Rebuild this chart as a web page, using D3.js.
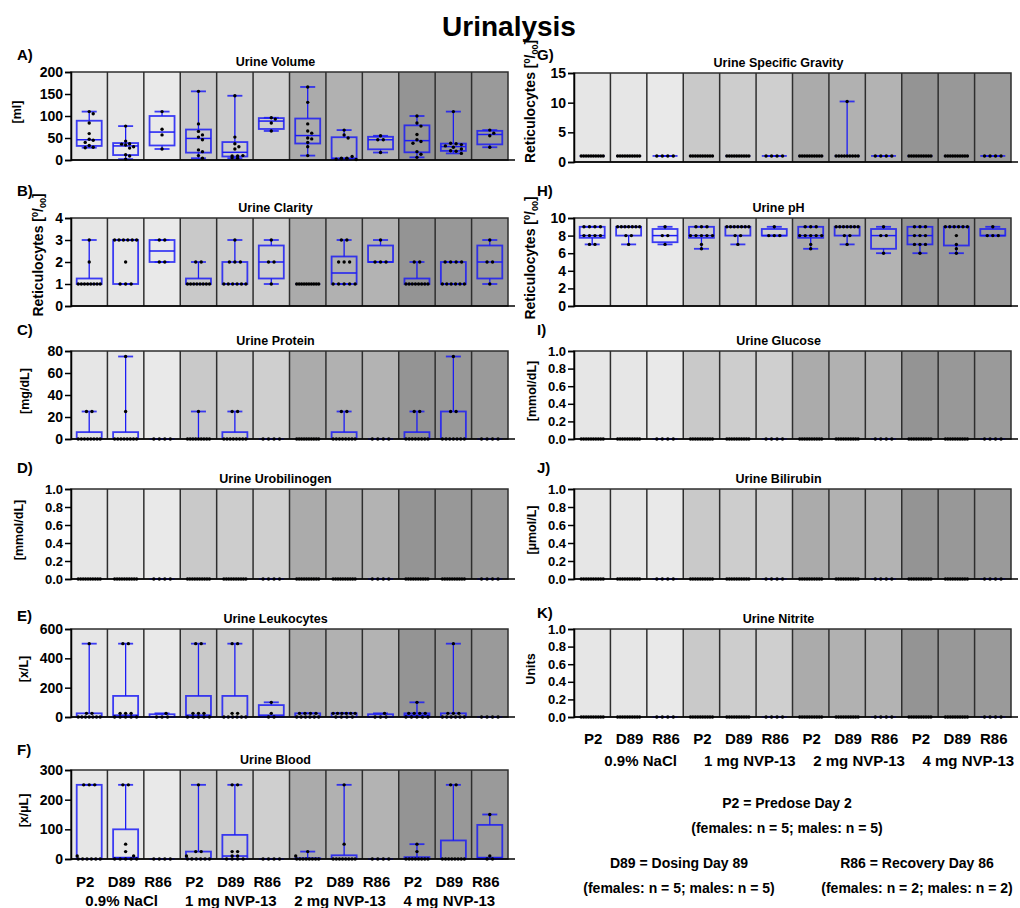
<!DOCTYPE html>
<html lang="en">
<head>
<meta charset="utf-8">
<title>Urinalysis</title>
<script src="https://cdn.jsdelivr.net/npm/d3@7"></script>
<style>
  body { margin: 0; background: #fff; }
  svg text { font-family: 'Liberation Sans', Arial, sans-serif; font-weight: bold; fill: #000; }
</style>
</head>
<body>
<div id="chart"></div>
<script>

/* Categories */
var timepoints = ['P2', 'D89', 'R86'];
var treatments = ['0.9% NaCl', '1 mg NVP-13', '2 mg NVP-13', '4 mg NVP-13'];

/* Values per column: NaCl P2, D89, R86, 1 mg P2, D89, R86, 2 mg ..., 4 mg ... */
var urineVolume = [
  [110, 105, 84, 60, 47, 45, 40, 33, 29, 28],
  [77, 43, 37, 36, 34, 30, 27, 12, 9, 2],
  [110, 70, 57, 25],
  [156, 82, 65, 57, 52, 46, 23, 19, 10, 4],
  [146, 52, 37, 30, 25, 10, 9, 9, 5, 4],
  [96, 93, 84, 66],
  [166, 131, 82, 66, 61, 50, 48, 40, 30, 10],
  [68, 57, 50, 8, 4, 4, 3, 3, 2, 1],
  [55, 46, 46, 17],
  [100, 84, 77, 58, 46, 42, 38, 19, 13, 6],
  [110, 38, 37, 35, 32, 29, 25, 21, 20, 15],
  [68, 61, 55, 29]
];

var urineClarity = [
  [3, 2, 1, 1, 1, 1, 1, 1, 1, 1],
  [3, 3, 3, 3, 3, 3, 2, 1, 1, 1],
  [3, 3, 2, 2],
  [2, 2, 1, 1, 1, 1, 1, 1, 1, 1],
  [3, 2, 2, 2, 1, 1, 1, 1, 1, 1],
  [3, 2, 2, 1],
  [1, 1, 1, 1, 1, 1, 1, 1, 1, 1],
  [3, 3, 2, 2, 2, 1, 1, 1, 1, 1],
  [3, 2, 2, 2],
  [2, 2, 1, 1, 1, 1, 1, 1, 1, 1],
  [2, 2, 2, 2, 1, 1, 1, 1, 1, 1],
  [3, 2, 2, 1]
];

var urineProtein = [
  [25, 25, 0, 0, 0, 0, 0, 0, 0, 0],
  [75, 25, 0, 0, 0, 0, 0, 0, 0, 0],
  [0, 0, 0, 0],
  [25, 0, 0, 0, 0, 0, 0, 0, 0, 0],
  [25, 25, 0, 0, 0, 0, 0, 0, 0, 0],
  [0, 0, 0, 0],
  [0, 0, 0, 0, 0, 0, 0, 0, 0, 0],
  [25, 25, 0, 0, 0, 0, 0, 0, 0, 0],
  [0, 0, 0, 0],
  [25, 25, 0, 0, 0, 0, 0, 0, 0, 0],
  [75, 25, 25, 0, 0, 0, 0, 0, 0, 0],
  [0, 0, 0, 0]
];

var urineUrobilinogen = [
  [0, 0, 0, 0, 0, 0, 0, 0, 0, 0],
  [0, 0, 0, 0, 0, 0, 0, 0, 0, 0],
  [0, 0, 0, 0],
  [0, 0, 0, 0, 0, 0, 0, 0, 0, 0],
  [0, 0, 0, 0, 0, 0, 0, 0, 0, 0],
  [0, 0, 0, 0],
  [0, 0, 0, 0, 0, 0, 0, 0, 0, 0],
  [0, 0, 0, 0, 0, 0, 0, 0, 0, 0],
  [0, 0, 0, 0],
  [0, 0, 0, 0, 0, 0, 0, 0, 0, 0],
  [0, 0, 0, 0, 0, 0, 0, 0, 0, 0],
  [0, 0, 0, 0]
];

var urineLeukocytes = [
  [500, 25, 25, 0, 0, 0, 0, 0, 0, 0],
  [500, 500, 25, 25, 25, 0, 0, 0, 0, 0],
  [25, 0, 0, 0],
  [500, 500, 25, 25, 25, 0, 0, 0, 0, 0],
  [500, 500, 25, 25, 0, 0, 0, 0, 0, 0],
  [100, 25, 0, 0],
  [25, 25, 25, 25, 0, 0, 0, 0, 0, 0],
  [25, 25, 25, 25, 25, 25, 0, 0, 0, 0],
  [25, 0, 0, 0],
  [100, 25, 25, 25, 25, 0, 0, 0, 0, 0],
  [500, 25, 25, 25, 0, 0, 0, 0, 0, 0],
  [0, 0, 0, 0]
];

var urineBlood = [
  [250, 250, 250, 10, 0, 0, 0, 0, 0, 0],
  [250, 250, 50, 25, 10, 0, 0, 0, 0, 0],
  [0, 0, 0, 0],
  [250, 25, 25, 10, 0, 0, 0, 0, 0, 0],
  [250, 250, 25, 25, 10, 10, 0, 0, 0, 0],
  [0, 0, 0, 0],
  [25, 10, 0, 0, 0, 0, 0, 0, 0, 0],
  [250, 50, 0, 0, 0, 0, 0, 0, 0, 0],
  [0, 0, 0, 0],
  [50, 25, 0, 0, 0, 0, 0, 0, 0, 0],
  [250, 250, 0, 0, 0, 0, 0, 0, 0, 0],
  [150, 10, 0, 0]
];

var urineSpecificGravity = [
  [1.02, 1.02, 1.02, 1.02, 1.02, 1.02, 1.02, 1.02, 1.02, 1.02],
  [1.02, 1.02, 1.02, 1.02, 1.02, 1.02, 1.02, 1.02, 1.02, 1.02],
  [1.02, 1.02, 1.02, 1.02],
  [1.02, 1.02, 1.02, 1.02, 1.02, 1.02, 1.02, 1.02, 1.02, 1.02],
  [1.02, 1.02, 1.02, 1.02, 1.02, 1.02, 1.02, 1.02, 1.02, 1.02],
  [1.02, 1.02, 1.02, 1.02],
  [1.02, 1.02, 1.02, 1.02, 1.02, 1.02, 1.02, 1.02, 1.02, 1.02],
  [10.2, 1.02, 1.02, 1.02, 1.02, 1.02, 1.02, 1.02, 1.02, 1.02],
  [1.02, 1.02, 1.02, 1.02],
  [1.02, 1.02, 1.02, 1.02, 1.02, 1.02, 1.02, 1.02, 1.02, 1.02],
  [1.02, 1.02, 1.02, 1.02, 1.02, 1.02, 1.02, 1.02, 1.02, 1.02],
  [1.02, 1.02, 1.02, 1.02]
];

var urinePH = [
  [9, 9, 9, 9, 8, 8, 8, 8, 7, 7],
  [9, 9, 9, 9, 9, 9, 9, 8, 8, 7],
  [9, 8, 8, 7],
  [9, 9, 9, 8, 8, 8, 8, 8, 7, 6.5],
  [9, 9, 9, 9, 9, 9, 9, 8, 8, 7],
  [9, 8, 8, 8],
  [9, 9, 9, 8, 8, 8, 8, 8, 7, 6.5],
  [9, 9, 9, 9, 9, 9, 9, 8, 8, 7],
  [9, 8, 8, 6],
  [9, 9, 9, 8, 8, 8, 7, 7, 7, 6],
  [9, 9, 9, 9, 9, 9, 8, 7, 6.5, 6],
  [9, 8, 8, 8]
];

var urineGlucose = [
  [0, 0, 0, 0, 0, 0, 0, 0, 0, 0],
  [0, 0, 0, 0, 0, 0, 0, 0, 0, 0],
  [0, 0, 0, 0],
  [0, 0, 0, 0, 0, 0, 0, 0, 0, 0],
  [0, 0, 0, 0, 0, 0, 0, 0, 0, 0],
  [0, 0, 0, 0],
  [0, 0, 0, 0, 0, 0, 0, 0, 0, 0],
  [0, 0, 0, 0, 0, 0, 0, 0, 0, 0],
  [0, 0, 0, 0],
  [0, 0, 0, 0, 0, 0, 0, 0, 0, 0],
  [0, 0, 0, 0, 0, 0, 0, 0, 0, 0],
  [0, 0, 0, 0]
];

var urineBilirubin = [
  [0, 0, 0, 0, 0, 0, 0, 0, 0, 0],
  [0, 0, 0, 0, 0, 0, 0, 0, 0, 0],
  [0, 0, 0, 0],
  [0, 0, 0, 0, 0, 0, 0, 0, 0, 0],
  [0, 0, 0, 0, 0, 0, 0, 0, 0, 0],
  [0, 0, 0, 0],
  [0, 0, 0, 0, 0, 0, 0, 0, 0, 0],
  [0, 0, 0, 0, 0, 0, 0, 0, 0, 0],
  [0, 0, 0, 0],
  [0, 0, 0, 0, 0, 0, 0, 0, 0, 0],
  [0, 0, 0, 0, 0, 0, 0, 0, 0, 0],
  [0, 0, 0, 0]
];

var urineNitrite = [
  [0, 0, 0, 0, 0, 0, 0, 0, 0, 0],
  [0, 0, 0, 0, 0, 0, 0, 0, 0, 0],
  [0, 0, 0, 0],
  [0, 0, 0, 0, 0, 0, 0, 0, 0, 0],
  [0, 0, 0, 0, 0, 0, 0, 0, 0, 0],
  [0, 0, 0, 0],
  [0, 0, 0, 0, 0, 0, 0, 0, 0, 0],
  [0, 0, 0, 0, 0, 0, 0, 0, 0, 0],
  [0, 0, 0, 0],
  [0, 0, 0, 0, 0, 0, 0, 0, 0, 0],
  [0, 0, 0, 0, 0, 0, 0, 0, 0, 0],
  [0, 0, 0, 0]
];


/* Layout */
/* ====== */

var width = 1020,
    height = 908;

var sides = {
  left:  { x0: 71,  x1: 508, letterX: 17 },
  right: { x0: 574, x1: 1011, letterX: 537 }
};

var colFill = ['#e6e6e6', '#e6e6e6', '#e9e9e9',
               '#c9c9c9', '#cdcdcd', '#cfcfcf',
               '#ababab', '#b1b1b1', '#b3b3b3',
               '#949494', '#989898', '#9a9a9a'];

var retLabel = 'Reticulocytes';

var panels = [
  { side: 'left', letter: 'A)', title: 'Urine Volume', unit: '[ml]', data: urineVolume,
    top: 72, bottom: 160, letterY: 60, max: 200, ticks: [0, 50, 100, 150, 200], fmt: d3.format('d'), labelX: 21 },
  { side: 'left', letter: 'B)', title: 'Urine Clarity', unit: retLabel, data: urineClarity,
    top: 218, bottom: 306, letterY: 196, max: 4, ticks: [0, 1, 2, 3, 4], fmt: d3.format('d'), labelX: 43, labelShift: -7 },
  { side: 'left', letter: 'C)', title: 'Urine Protein', unit: '[mg/dL]', data: urineProtein,
    top: 351, bottom: 439, letterY: 335, max: 80, ticks: [0, 20, 40, 60, 80], fmt: d3.format('d'), labelX: 29 },
  { side: 'left', letter: 'D)', title: 'Urine Urobilinogen', unit: '[mmol/dL]', data: urineUrobilinogen,
    top: 489, bottom: 579, letterY: 473, max: 1, ticks: [0, 0.2, 0.4, 0.6, 0.8, 1], fmt: d3.format('.1f'), labelX: 23 },
  { side: 'left', letter: 'E)', title: 'Urine Leukocytes', unit: '[x/L]', data: urineLeukocytes,
    top: 629, bottom: 717, letterY: 621, max: 600, ticks: [0, 200, 400, 600], fmt: d3.format('d'), labelX: 28 },
  { side: 'left', letter: 'F)', title: 'Urine Blood', unit: '[x/\u00b5L]', data: urineBlood,
    top: 770, bottom: 859, letterY: 755, max: 300, ticks: [0, 100, 200, 300], fmt: d3.format('d'), labelX: 28 },

  { side: 'right', letter: 'G)', title: 'Urine Specific Gravity', unit: retLabel, data: urineSpecificGravity,
    top: 73, bottom: 162, letterY: 60, max: 15, ticks: [0, 5, 10, 15], fmt: d3.format('d'), labelX: 535, labelShift: -16 },
  { side: 'right', letter: 'H)', title: 'Urine pH', unit: retLabel, data: urinePH,
    top: 218, bottom: 306, letterY: 196, max: 10, ticks: [0, 2, 4, 6, 8, 10], fmt: d3.format('d'), labelX: 535 },
  { side: 'right', letter: 'I)', title: 'Urine Glucose', unit: '[mmol/dL]', data: urineGlucose,
    top: 351, bottom: 439, letterY: 335, max: 1, ticks: [0, 0.2, 0.4, 0.6, 0.8, 1], fmt: d3.format('.1f'), labelX: 536 },
  { side: 'right', letter: 'J)', title: 'Urine Bilirubin', unit: '[\u00b5mol/L]', data: urineBilirubin,
    top: 489, bottom: 579, letterY: 473, max: 1, ticks: [0, 0.2, 0.4, 0.6, 0.8, 1], fmt: d3.format('.1f'), labelX: 536 },
  { side: 'right', letter: 'K)', title: 'Urine Nitrite', unit: 'Units', data: urineNitrite,
    top: 629, bottom: 717, letterY: 618, max: 1, ticks: [0, 0.2, 0.4, 0.6, 0.8, 1], fmt: d3.format('.1f'), labelX: 535 }
];

// column keys in drawing order
var columns = [];
treatments.forEach(function(t) {
  timepoints.forEach(function(tp) { columns.push(t + '|' + tp); });
});


/* Helpers */
/* ======= */

// quartile as (n + 1) * p position, the way Prism does it
function quart(sorted, p) {
  var n = sorted.length,
      pos = p * (n + 1);
  if (pos <= 1) return sorted[0];
  if (pos >= n) return sorted[n - 1];
  var lo = Math.floor(pos),
      f = pos - lo;
  return sorted[lo - 1] + f * (sorted[lo] - sorted[lo - 1]);
}

// horizontal offsets for the dots: tied values share a compact row,
// the rest are pushed sideways until they stop overlapping
function spreadDots(ys) {
  var dx = new Array(ys.length).fill(0),
      placed = [];

  var ties = d3.group(ys.map(function(y, i) { return i; }), function(i) { return Math.round(ys[i] * 2); });
  var singles = [];

  ties.forEach(function(g) {
    var k = g.length;
    if (k < 2) { singles.push(g[0]); return; }
    var sp = Math.min(5.5, 22 / (k - 1));
    g.forEach(function(i, j) {
      dx[i] = (j - (k - 1) / 2) * sp;
      placed.push([dx[i], ys[i]]);
    });
  });

  singles.sort(function(a, b) { return ys[a] - ys[b]; });
  var steps = [0, 4, -4, 8, -8, 12, -12];
  singles.forEach(function(i) {
    for (var s = 0; s < steps.length; s++) {
      var ok = placed.every(function(q) {
        var ddx = q[0] - steps[s], ddy = q[1] - ys[i];
        return ddx * ddx + ddy * ddy >= 3.8 * 3.8;
      });
      if (ok || s === steps.length - 1) {
        dx[i] = steps[s];
        placed.push([dx[i], ys[i]]);
        break;
      }
    }
  });
  return dx;
}


/* Drawing */
/* ======= */

var svg = d3.select('#chart').append('svg')
    .attr('width', width)
    .attr('height', height);

svg.append('text')
    .attr('x', 509)
    .attr('y', 36)
    .attr('text-anchor', 'middle')
    .style('font-size', '28px')
    .text('Urinalysis');

panels.forEach(function(p) {

  var s = sides[p.side];

  var x = d3.scaleBand()
      .domain(columns)
      .range([s.x0, s.x1])
      .padding(0);

  var y = d3.scaleLinear()
      .domain([0, p.max])
      .range([p.bottom, p.top]);

  var g = svg.append('g');

  // column backgrounds
  g.selectAll('rect.bg')
    .data(columns)
    .join('rect')
      .attr('class', 'bg')
      .attr('x', function(d) { return x(d); })
      .attr('y', p.top)
      .attr('width', x.bandwidth())
      .attr('height', p.bottom - p.top)
      .attr('fill', function(d, i) { return colFill[i]; });

  // column separators
  g.selectAll('line.sep')
    .data(columns.slice(1))
    .join('line')
      .attr('class', 'sep')
      .attr('x1', function(d) { return x(d); })
      .attr('x2', function(d) { return x(d); })
      .attr('y1', p.top)
      .attr('y2', p.bottom)
      .attr('stroke', '#2e2e2e')
      .attr('stroke-width', 1.5);

  // frame
  g.append('rect')
      .attr('x', s.x0)
      .attr('y', p.top)
      .attr('width', s.x1 - s.x0)
      .attr('height', p.bottom - p.top)
      .attr('fill', 'none')
      .attr('stroke', '#2e2e2e')
      .attr('stroke-width', 1.5);

  // boxes and whiskers
  var bw = 25, cw = 15;
  p.data.forEach(function(vals, i) {
    var cx = x(columns[i]) + x.bandwidth() / 2;
    var sorted = vals.slice().sort(d3.ascending);
    var mn = sorted[0],
        mx = sorted[sorted.length - 1],
        q1 = quart(sorted, 0.25),
        md = quart(sorted, 0.5),
        q3 = quart(sorted, 0.75);

    var b = g.append('g')
        .attr('stroke', '#1c1cf5')
        .attr('fill', 'none');

    // whiskers
    b.append('line')
        .attr('x1', cx).attr('x2', cx)
        .attr('y1', y(q3)).attr('y2', y(mx))
        .attr('stroke-width', 1.3);
    b.append('line')
        .attr('x1', cx).attr('x2', cx)
        .attr('y1', y(q1)).attr('y2', y(mn))
        .attr('stroke-width', 1.3);

    // caps
    [mn, mx].forEach(function(v) {
      b.append('line')
          .attr('x1', cx - cw / 2).attr('x2', cx + cw / 2)
          .attr('y1', y(v)).attr('y2', y(v))
          .attr('stroke-width', 1.8)
          .attr('stroke-opacity', 0.85);
    });

    // box
    b.append('rect')
        .attr('x', cx - bw / 2)
        .attr('y', y(q3))
        .attr('width', bw)
        .attr('height', Math.max(0, y(q1) - y(q3)))
        .attr('stroke-width', 1.8)
        .attr('stroke-opacity', 0.85);

    // median
    b.append('line')
        .attr('x1', cx - bw / 2).attr('x2', cx + bw / 2)
        .attr('y1', y(md)).attr('y2', y(md))
        .attr('stroke-width', 1.5);

    // dots
    var ys = vals.map(function(v) { return y(v); });
    var dx = spreadDots(ys);
    g.selectAll(null)
      .data(vals)
      .join('circle')
        .attr('cx', function(d, j) { return cx + dx[j]; })
        .attr('cy', function(d, j) { return ys[j]; })
        .attr('r', 1.7)
        .attr('fill', '#000');
  });

  // baseline (runs a little past the frame)
  g.append('line')
      .attr('x1', s.x0).attr('x2', s.x1 + 7)
      .attr('y1', p.bottom).attr('y2', p.bottom)
      .attr('stroke', '#000')
      .attr('stroke-width', 1.3);

  // y axis
  var yAxis = d3.axisLeft(y)
      .tickValues(p.ticks)
      .tickFormat(p.fmt)
      .tickSize(6)
      .tickPadding(2);

  var ax = svg.append('g')
      .attr('transform', 'translate(' + s.x0 + ',0)')
      .call(yAxis);

  ax.select('.domain').attr('stroke', '#000').attr('stroke-width', 1.5);
  ax.selectAll('.tick line').attr('stroke', '#000').attr('stroke-width', 1.5);
  ax.selectAll('.tick text')
      .attr('fill', '#000')
      .style('font-size', p.max === 1 ? '13px' : '14px');

  // panel title
  svg.append('text')
      .attr('x', (s.x0 + s.x1) / 2 - 14)
      .attr('y', p.top - 6)
      .attr('text-anchor', 'middle')
      .style('font-size', '12.5px')
      .text(p.title);

  // panel letter
  svg.append('text')
      .attr('x', s.letterX)
      .attr('y', p.letterY)
      .style('font-size', '15px')
      .text(p.letter);

  // y axis label
  var cy = (p.top + p.bottom) / 2 + (p.labelShift || -4);
  var lab = svg.append('text')
      .attr('transform', 'translate(' + p.labelX + ',' + cy + ') rotate(-90)')
      .attr('text-anchor', 'middle');

  if (p.unit === retLabel) {
    lab.style('font-size', '14px');
    lab.append('tspan').text(retLabel + ' [');
    lab.append('tspan').attr('dy', -5).style('font-size', '9px').text('0');
    lab.append('tspan').attr('dy', 5).text('/');
    lab.append('tspan').attr('dy', 3).style('font-size', '9px').text('00');
    lab.append('tspan').attr('dy', -3).text(']');
  } else {
    lab.style('font-size', '12.5px').text(p.unit);
  }

  // x labels only under the bottom panel of each side
  if (p.letter === 'F)' || p.letter === 'K)') {
    var left = p.side === 'left';
    var tickY = left ? 887 : 744,
        grpY = left ? 906 : 766,
        tickOff = left ? -4 : 1,
        grpOff = left ? -4 : 12;

    svg.selectAll(null)
      .data(columns)
      .join('text')
        .attr('x', function(d) { return x(d) + x.bandwidth() / 2 + tickOff; })
        .attr('y', tickY)
        .attr('text-anchor', 'middle')
        .style('font-size', '15px')
        .text(function(d) { return d.split('|')[1]; });

    svg.selectAll(null)
      .data(treatments)
      .join('text')
        .attr('x', function(d) { return x(d + '|' + timepoints[1]) + x.bandwidth() / 2 + grpOff; })
        .attr('y', grpY)
        .attr('text-anchor', 'middle')
        .style('font-size', '15px')
        .text(function(d) { return d; });
  }

});


/* Legend for the time points */
/* ========================== */

var legend = [
  { x: 787, y: 808, text: 'P2 = Predose Day 2' },
  { x: 787, y: 833, text: '(females: n = 5; males: n = 5)' },
  { x: 679, y: 868, text: 'D89 = Dosing Day 89' },
  { x: 679, y: 893, text: '(females: n = 5; males: n = 5)' },
  { x: 917, y: 868, text: 'R86 = Recovery Day 86' },
  { x: 917, y: 893, text: '(females: n = 2; males: n = 2)' }
];

svg.selectAll(null)
  .data(legend)
  .join('text')
    .attr('x', function(d) { return d.x; })
    .attr('y', function(d) { return d.y; })
    .attr('text-anchor', 'middle')
    .style('font-size', '14px')
    .text(function(d) { return d.text; });

</script>
</body>
</html>
